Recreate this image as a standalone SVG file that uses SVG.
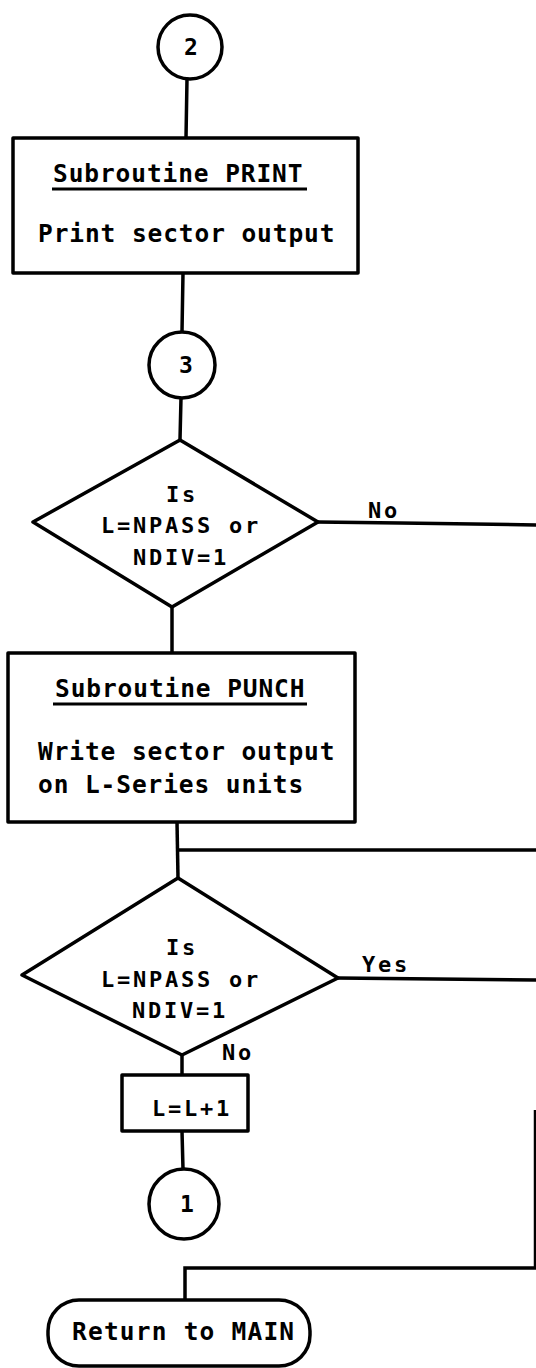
<svg xmlns="http://www.w3.org/2000/svg" width="536" height="1368" viewBox="0 0 536 1368">
  <style>
    .shape { fill: #fff; stroke: #000; stroke-width: 3.5; stroke-linejoin: round; }
    .wire { fill: none; stroke: #000; stroke-width: 3.5; stroke-linecap: square; }
    .edge { fill: none; stroke: #000; stroke-width: 2.5; }
    .ul { stroke: #000; stroke-width: 3; }
    .t { font-family: "DejaVu Sans Mono", "Liberation Mono", monospace; font-weight: bold; fill: #000; }
    .box { font-size: 24.5px; letter-spacing: 0.9px; }
    .dec { font-size: 22px; letter-spacing: 2.75px; }
    .num { font-size: 23px; text-anchor: middle; }
  </style>
  <rect x="0" y="0" width="536" height="1368" fill="#fff"/>

  <g id="connectors">
    <line class="wire" x1="187" y1="79" x2="186" y2="138"/>
    <line class="wire" x1="183" y1="273" x2="182" y2="332"/>
    <line class="wire" x1="181" y1="398" x2="180" y2="440"/>
    <polyline class="wire" points="318,522 400,523 536,525"/>
    <line class="wire" x1="172" y1="607" x2="172" y2="653"/>
    <line class="wire" x1="177" y1="822" x2="178" y2="878"/>
    <line class="wire" x1="178" y1="850" x2="536" y2="850"/>
    <line class="wire" x1="338" y1="978" x2="536" y2="980"/>
    <line class="wire" x1="182" y1="1055" x2="182" y2="1075"/>
    <line class="wire" x1="182" y1="1131" x2="183" y2="1169"/>
    <line class="edge" x1="535" y1="1110" x2="535" y2="1268"/>
    <polyline class="wire" points="536,1268 185,1268 185,1300"/>
  </g>

  <g id="c2">
    <circle class="shape" cx="190" cy="47" r="32"/>
    <text class="t num" x="191" y="55">2</text>
  </g>

  <g id="print">
    <rect class="shape" x="13" y="138" width="345" height="135"/>
    <text class="t box" x="53" y="182">Subroutine PRINT</text>
    <line class="ul" x1="52" y1="189" x2="307" y2="189"/>
    <text class="t box" x="38" y="242">Print sector output</text>
  </g>

  <g id="c3">
    <circle class="shape" cx="182" cy="365" r="33"/>
    <text class="t num" x="186" y="373">3</text>
  </g>

  <g id="d1">
    <polygon class="shape" points="180,440 318,522 172,607 33,522"/>
    <text class="t dec" x="166" y="502">Is</text>
    <text class="t dec" x="101" y="533">L=NPASS or</text>
    <text class="t dec" x="133" y="565">NDIV=1</text>
    <text class="t dec" x="368" y="518">No</text>
  </g>

  <g id="punch">
    <rect class="shape" x="8" y="653" width="347" height="169"/>
    <text class="t box" x="55" y="697">Subroutine PUNCH</text>
    <line class="ul" x1="53" y1="704" x2="307" y2="704"/>
    <text class="t box" x="38" y="760">Write sector output</text>
    <text class="t box" x="38" y="793">on L-Series units</text>
  </g>

  <g id="d2">
    <polygon class="shape" points="178,878 338,978 182,1055 22,975"/>
    <text class="t dec" x="166" y="955">Is</text>
    <text class="t dec" x="101" y="987">L=NPASS or</text>
    <text class="t dec" x="132" y="1018">NDIV=1</text>
    <text class="t dec" x="362" y="972">Yes</text>
    <text class="t dec" x="222" y="1060">No</text>
  </g>

  <g id="inc">
    <rect class="shape" x="122" y="1075" width="126" height="56"/>
    <text class="t dec" x="152" y="1116">L=L+1</text>
  </g>

  <g id="c1">
    <circle class="shape" cx="184" cy="1204" r="35"/>
    <text class="t num" x="187" y="1212">1</text>
  </g>

  <g id="ret">
    <rect class="shape" x="48" y="1300" width="262" height="66" rx="31" ry="31"/>
    <text class="t box" x="72" y="1340" style="letter-spacing:1.2px">Return to MAIN</text>
  </g>
</svg>
